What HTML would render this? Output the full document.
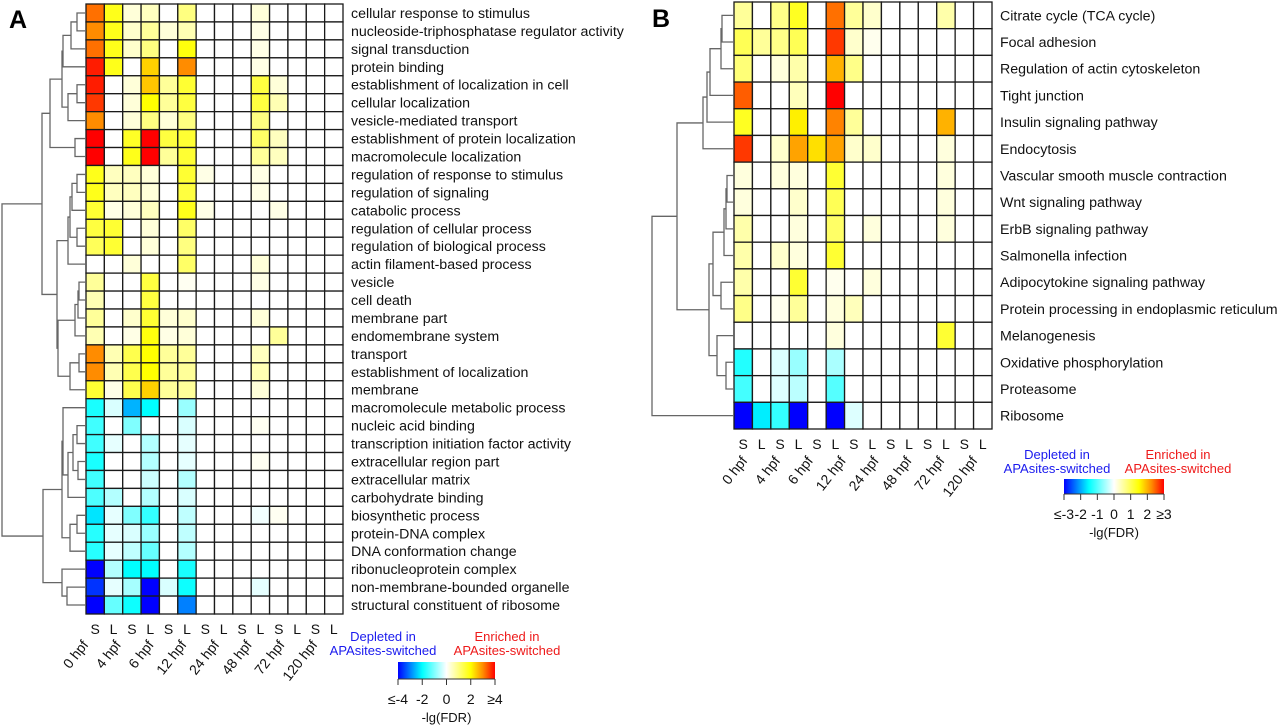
<!DOCTYPE html>
<html><head><meta charset="utf-8"><style>
html,body{margin:0;padding:0;background:#fff;}
svg{display:block;font-family:"Liberation Sans",Arial,sans-serif;}
</style></head><body>
<svg id="fig" width="1280" height="725" viewBox="0 0 1280 725" xmlns="http://www.w3.org/2000/svg">
<text x="9" y="28" font-size="25" font-weight="bold">A</text>
<text x="652" y="27" font-size="25" font-weight="bold">B</text>
</svg>
<script>
const colLabels = ["S","L","S","L","S","L","S","L","S","L","S","L","S","L"];
const timeLabels = ["0 hpf","4 hpf","6 hpf","12 hpf","24 hpf","48 hpf","72 hpf","120 hpf"];

const rowsA = ["cellular response to stimulus","nucleoside-triphosphatase regulator activity","signal transduction","protein binding","establishment of localization in cell","cellular localization","vesicle-mediated transport","establishment of protein localization","macromolecule localization","regulation of response to stimulus","regulation of signaling","catabolic process","regulation of cellular process","regulation of biological process","actin filament-based process","vesicle","cell death","membrane part","endomembrane system","transport","establishment of localization","membrane","macromolecule metabolic process","nucleic acid binding","transcription initiation factor activity","extracellular region part","extracellular matrix","carbohydrate binding","biosynthetic process","protein-DNA complex","DNA conformation change","ribonucleoprotein complex","non-membrane-bounded organelle","structural constituent of ribosome"];
const valuesA = [
[3.2,1.8,0.3,0.5,0,1.0,0,0,0,0.3,0,0,0,0],
[3.0,1.8,0.4,0.8,0.3,0.6,0,0,0,0.2,0,0,0,0],
[3.2,1.8,0.4,1.0,0,1.9,0,0,0,0.2,0,0,0,0],
[3.8,1.8,0,2.4,0,3.0,0,0,0,0.2,0,0,0,0],
[3.8,0,0.3,2.5,0.8,1.6,0,0,0,1.5,0.3,0,0,0],
[3.6,0,0.3,2.0,0.8,1.5,0,0,0,1.5,0.6,0,0,0],
[3.0,0,0.3,1.0,0.3,1.0,0,0,0,1.0,0,0,0,0],
[4,0,1.7,4,1.5,1.6,0,0,0,1.2,0.5,0,0,0],
[4,0,1.8,4,0.8,1.6,0,0,0,0.8,0.5,0,0,0],
[1.8,0.5,0.5,0.3,0,1.6,0.2,0,0,0.2,0,0,0,0],
[1.8,0.5,0.5,0.3,0,1.5,0,0,0,0.2,0,0,0,0],
[1.6,0.2,0.3,0.5,0,1.8,0.2,0,0,0,0.2,0,0,0],
[1.5,1.6,0,0.3,0,1.2,0,0,0,0,0,0,0,0],
[1.3,1.6,0,0.3,0,1.0,0,0,0,0,0,0,0,0],
[0,0,0.3,0,0,1.2,0,0,0,0.3,0,0,0,0],
[0.8,0,0,1.5,0,0.1,0,0,0,0.2,0,0,0,0],
[0.6,0,0,1.5,0,0,0,0,0,0,0,0,0,0],
[0.8,0,0.4,1.6,0.3,0.4,0,0,0,0.3,0,0,0,0],
[0.6,0,0.2,1.9,0.2,0.3,0,0,0,0,0.8,0,0,0],
[3.0,0.6,1.4,2.0,0.8,0.8,0,0,0,0.5,0,0,0,0],
[3.0,0.6,1.4,2.0,0.8,0.8,0,0,0,0.6,0,0,0,0],
[1.6,0.2,1.4,2.4,0.8,0.8,0,0,0,0.3,0,0,0,0],
[-1.8,-0.3,-2.6,-2.0,0,-0.8,0,0,0,0,0,0,0,0],
[-1.5,0,-1.0,0,0,-0.3,0,0,0,0.1,0,0,0,0],
[-1.5,-0.2,0,-0.6,0,-0.2,0,0,0,0,0,0,0,0],
[-1.8,0,0,-0.6,0,-0.2,0,0,0,0.1,0,0,0,0],
[-1.5,0,0,-0.4,0,-0.6,0,0,0,0,0,0,0,0],
[-1.4,-0.6,0,-0.6,0,-0.3,0,0,0,0,0,0,0,0],
[-2.2,-0.2,-1.0,-1.6,0,-0.5,0,0,0,-0.1,0.1,0,0,0],
[-1.7,-0.2,-0.3,-0.8,0,-0.5,0,0,0,0,0,0,0,0],
[-1.7,-0.2,-0.5,-1.2,0,-0.6,0,0,0,0,0,0,0,0],
[-4,-0.6,-2.0,-2.0,0,-1.8,0,0,0,0,0,0,0,0],
[-3.6,-0.2,-0.7,-4,-0.3,-1.9,0,0,0,-0.2,0,0,0,0],
[-4,-1.2,-1.9,-4,0,-3.0,0,0,0,0,0,0,0,0]];

const rowsB = ["Citrate cycle (TCA cycle)","Focal adhesion","Regulation of actin cytoskeleton","Tight junction","Insulin signaling pathway","Endocytosis","Vascular smooth muscle contraction","Wnt signaling pathway","ErbB signaling pathway","Salmonella infection","Adipocytokine signaling pathway","Protein processing in endoplasmic reticulum","Melanogenesis","Oxidative phosphorylation","Proteasome","Ribosome"];
const valuesB = [
[0.6,0,0.7,1.3,0,2.4,0.6,0.3,0,0,0,0.5,0,0],
[1.0,0.6,0.7,1.0,0,2.7,0.3,0.1,0,0,0,0,0,0],
[0.8,0,0.2,0.5,0,2.0,0.7,0,0,0,0,0,0,0],
[2.5,0,0,0.4,0,3.0,0,0,0,0,0,0,0,0],
[1.3,0,0,1.6,0,2.3,0.6,0,0,0,0,2.0,0,0],
[2.7,0,0.3,2.1,1.7,2.1,0.3,0.3,0,0,0,0.2,0,0],
[0.2,0,0.2,0.2,0,1.2,0,0,0,0,0,0.2,0,0],
[0.2,0,0,0.3,0,1.0,0,0,0,0,0,0.2,0,0],
[0.5,0,0,0.2,0,0.9,0,0.2,0,0,0,0.2,0,0],
[0.5,0,0.3,0.2,0,1.2,0,0,0,0,0,0,0,0],
[0.5,0,0,1.2,0,0.1,0,0.2,0,0,0,0,0,0],
[0.7,0,0.1,0.6,0,0.2,0.4,0,0,0,0,0,0,0],
[0,0,0,0,0,0.2,0,0,0,0,0,1.2,0,0],
[-1.3,0,-0.2,-0.6,0,-0.5,0,0,0,0,0,0,0,0],
[-1.1,0,-0.2,-0.4,0,-1.0,0,0,0,0,0,0,0,0],
[-3,-1.6,-1.2,-3,0,-3,-0.2,0,0,0,0,0,0,0]];

// dendrograms: [mergeX, childA, childB]; leaves are row indices
const treeA = [2,[42,[50,[62,[63,[71,[77,0,1],2],3],[68,[77,4,5],6]],[75,7,8]],
  [57,[68,[70,[72,[77,9,10],11],[77,12,13]],14],[58,[75,[78,[79,15,16],17],18],[70,[79,19,20],21]]]],
  [43,[62,[63,22,[68,[73,[77,23,24],[78,25,26]],27]],[70,[77,28,29],30]],[62,31,[67,32,33]]]];
const treeB = [652,[677,[703,[707,[710,[721,[722,0,1],2],3],4],5],
  [709,[713,[724,[726,[727,6,7],8],9],[721,10,11]],[717,12,[726,13,14]]]],15];

const NS = "http://www.w3.org/2000/svg";
const svg = document.getElementById('fig');
function mk(tag, attrs, parent){const e=document.createElementNS(NS,tag);for(const k in attrs)e.setAttribute(k,attrs[k]);(parent||svg).appendChild(e);return e;}

const stops=[[-1,[0,0,255]],[-0.5,[0,255,255]],[0,[255,255,255]],[0.5,[255,255,0]],[0.75,[255,140,0]],[1,[255,0,0]]];
function color(t){t=Math.max(-1,Math.min(1,t));for(let i=0;i<stops.length-1;i++){const a=stops[i],b=stops[i+1];if(t<=b[0]){const f=(t-a[0])/(b[0]-a[0]);const c=a[1].map((v,j)=>Math.round(v+(b[1][j]-v)*f));return `rgb(${c[0]},${c[1]},${c[2]})`;}}return 'rgb(255,0,0)';}

function panel(cfg){
  const {rows,vals,x0,x1,y0,y1,max,tree,labX,fs,colY,timeX0,timeX1,timeY,key}=cfg;
  const nc=colLabels.length, nr=rows.length;
  const cw=(x1-x0)/nc, rh=(y1-y0)/nr;
  const xs=c=>x0+c*cw, ys=r=>y0+r*rh;
  const g=mk('g',{});  
  vals.forEach((row,r)=>row.forEach((v,c)=>{
    const e=mk('rect',{x:xs(c),y:ys(r),width:cw,height:rh,fill:color(v/max),stroke:'#1a1a1a','stroke-width':1.3},g);
    
    
  }));
  rows.forEach((t,r)=>{
    const e=mk('text',{x:labX,y:ys(r)+rh/2+5,'font-size':fs,fill:'#111'});e.textContent=t;
    
    
  });
  colLabels.forEach((t,c)=>{
    const e=mk('text',{x:xs(c)+cw/2,y:colY,'font-size':14,'text-anchor':'middle',fill:'#111'});e.textContent=t;
    
    
  });
  const step=(timeX1-timeX0)/(timeLabels.length-1);
  timeLabels.forEach((t,k)=>{
    const cx=timeX0+k*step, cy=timeY;
    const e=mk('text',{x:cx,y:cy,'font-size':14,'text-anchor':'end',fill:'#111',transform:`rotate(-52 ${cx} ${cy})`});e.textContent=t;
    
    
  });
  const dg=mk('g',{stroke:'#666','stroke-width':1.3,fill:'none'});
  
  
  function draw(n){
    if(typeof n==='number') return {x:x0,y:ys(n)+rh/2};
    const a=draw(n[1]), b=draw(n[2]), h=n[0];
    mk('path',{d:`M${a.x},${a.y}H${h}V${b.y}H${b.x}`},dg);
    return {x:h,y:(a.y+b.y)/2};
  }
  draw(tree);
}

panel({key:'panel-a',rows:rowsA,vals:valuesA,x0:86,x1:343,y0:4,y1:614,max:4,tree:treeA,labX:351,fs:14.2,colY:634,timeX0:89,timeX1:318,timeY:645});
panel({key:'panel-b',rows:rowsB,vals:valuesB,x0:734,x1:992,y0:2,y1:429,max:3,tree:treeB,labX:1000,fs:14.2,colY:449,timeX0:748,timeX1:978,timeY:461});

const tickA=["\u2264-4","-2","0","2","\u22654"];
const tickB=["\u2264-3","-2","-1","0","1","2","\u22653"];
function legend(key,bx0,bx1,by0,by1,ticks,depX,enrX,textY){
  const gid=key+'-grad';
  const defs=mk('defs',{});const lg=mk('linearGradient',{id:gid,x1:0,x2:1,y1:0,y2:0},defs);
  stops.forEach(s=>mk('stop',{offset:(s[0]+1)/2,'stop-color':`rgb(${s[1].join(',')})`},lg));
  const bar=mk('rect',{x:bx0,y:by0,width:bx1-bx0,height:by1-by0,fill:`url(#${gid})`});
  
  
  mk('line',{x1:bx0,x2:bx1,y1:by1,y2:by1,stroke:'#333','stroke-width':1});
  ticks.forEach((t,i)=>{
    const x=bx0+(bx1-bx0)*i/(ticks.length-1);
    mk('line',{x1:x,x2:x,y1:by1,y2:by1+6,stroke:'#333','stroke-width':1});
    const e=mk('text',{x:x,y:by1+25,'font-size':14,'text-anchor':'middle',fill:'#111'});e.textContent=t;
    
    
  });
  const tt=mk('text',{x:(bx0+bx1)/2,y:by1+43,'font-size':13,'text-anchor':'middle',fill:'#111'});tt.textContent='-lg(FDR)';
  
  
  [[depX,'#1a1aee','Depleted in','depleted-label'],[enrX,'#ee1a1a','Enriched in','enriched-label']].forEach(d=>{
    const e=mk('text',{x:d[0],y:textY,'font-size':13,'text-anchor':'middle',fill:d[1]});
    
    
    const s1=mk('tspan',{x:d[0],dy:0},e);s1.textContent=d[2];
    const s2=mk('tspan',{x:d[0],dy:14},e);s2.textContent='APAsites-switched';
  });
}
legend('legend-a',398,495,662,679,tickA,383,507,641);
legend('legend-b',1064,1164,479,494,tickB,1057,1178,459);
</script>
</body></html>
